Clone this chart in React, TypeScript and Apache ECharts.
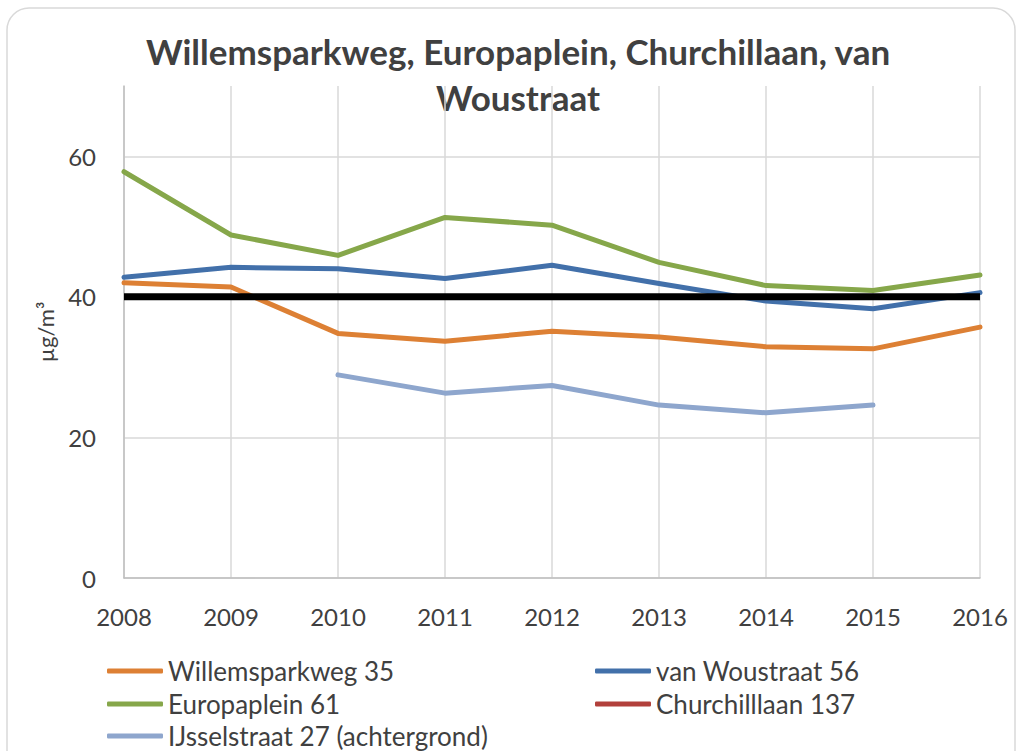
import React, { useEffect, useRef } from "react";
import * as echarts from "echarts";

const years = ["2008", "2009", "2010", "2011", "2012", "2013", "2014", "2015", "2016"];
const willemsparkweg = [42.0, 41.4, 34.8, 33.7, 35.1, 34.3, 32.9, 32.6, 35.7];
const vanWoustraat = [42.8, 44.2, 44.0, 42.6, 44.5, 41.9, 39.4, 38.3, 40.6];
const europaplein = [57.8, 48.8, 45.9, 51.3, 50.2, 44.9, 41.6, 40.9, 43.1];
const churchilllaan: (number | null)[] = [null, null, null, null, null, null, null, null, null];
const ijsselstraat: (number | null)[] = [null, null, 28.9, 26.3, 27.4, 24.6, 23.5, 24.6, null];
const norm = [40, 40, 40, 40, 40, 40, 40, 40, 40];
const yTicks = [0, 20, 40, 60, 70];

const FONT = "Lato, 'Open Sans', sans-serif";

export default function App() {
  const ref = useRef<HTMLDivElement>(null);
  useEffect(() => {
    if (!ref.current) return;
    const chart = echarts.init(ref.current, undefined, { renderer: "svg" });
    const mk = (name: string, data: (number | null)[], color: string, width = 5) => ({
      name,
      type: "line",
      data,
      symbol: "none",
      showSymbol: false,
      connectNulls: false,
      lineStyle: { color, width, cap: "round", join: "round" },
      itemStyle: { color },
    });
    const leg = (name: string, left: number, centerY: number) => ({
      data: [name],
      orient: "horizontal",
      left,
      top: centerY - 12,
      padding: 0,
      icon: "roundRect",
      itemWidth: 56,
      itemHeight: 5,
      itemGap: 0,
      textStyle: { fontFamily: FONT, fontSize: 26, lineHeight: 24, color: "#404040", padding: [0, 0, 0, 0] },
    });
    chart.setOption({
      animation: false,
      textStyle: { fontFamily: FONT },
      graphic: [
        {
          type: "rect",
          shape: { x: 7, y: 8, width: 1008, height: 770, r: 22 },
          style: { fill: "none", stroke: "#d9d9d9", lineWidth: 1.5 },
          silent: true,
        },
        {
          type: "text",
          x: 518,
          y: 28,
          style: {
            text: "Willemsparkweg, Europaplein, Churchillaan, van\nWoustraat",
            align: "center",
            verticalAlign: "top",
            fontFamily: FONT,
            fontWeight: "bold",
            fontSize: 35,
            lineHeight: 46,
            fill: "#404040",
          },
        },
      ],
      grid: { left: 124, right: 41, top: 86, bottom: 173 },
      legend: [
        leg("Willemsparkweg 35", 107, 670),
        leg("Europaplein 61", 107, 703),
        leg("IJsselstraat 27 (achtergrond)", 107, 735),
        leg("van Woustraat 56", 595, 670),
        leg("Churchilllaan 137", 595, 703),
      ],
      xAxis: {
        type: "category",
        data: years,
        boundaryGap: false,
        axisLine: { lineStyle: { color: "#bfbfbf", width: 1.5 } },
        axisTick: { show: false },
        axisLabel: { fontFamily: FONT, fontSize: 24, color: "#404040", margin: 26 },
        splitLine: { show: true, lineStyle: { color: "#d9d9d9", width: 1.5 } },
      },
      yAxis: {
        type: "value",
        min: yTicks[0],
        max: yTicks[yTicks.length - 1],
        interval: 20,
        name: "µg/m³",
        nameLocation: "middle",
        nameGap: 68,
        nameTextStyle: { fontFamily: FONT, fontSize: 22, color: "#404040" },
        axisLine: { show: true, lineStyle: { color: "#bfbfbf", width: 1.5 } },
        axisTick: { show: false },
        axisLabel: {
          fontFamily: FONT,
          fontSize: 24,
          color: "#404040",
          margin: 28,
          formatter: (v: number) => (v === 70 ? "" : String(v)),
        },
        splitLine: {
          show: true,
          lineStyle: { color: ["#d9d9d9", "#d9d9d9", "#d9d9d9", "#d9d9d9", "rgba(0,0,0,0)"], width: 1.5 },
        },
      },
      series: [
        mk("Willemsparkweg 35", willemsparkweg, "#dd8034"),
        mk("van Woustraat 56", vanWoustraat, "#4270aa"),
        mk("Europaplein 61", europaplein, "#86a74a"),
        mk("Churchilllaan 137", churchilllaan, "#b2403b"),
        mk("IJsselstraat 27 (achtergrond)", ijsselstraat, "#8ea6cd"),
        { ...mk("Norm", norm, "#000000", 7), lineStyle: { color: "#000", width: 7, cap: "butt" } },
      ],
    });
    return () => chart.dispose();
  }, []);
  return (
    <div
      ref={ref}
      style={{ position: "fixed", left: 0, top: 0, width: 1021, height: 751, background: "#fff" }}
    />
  );
}
